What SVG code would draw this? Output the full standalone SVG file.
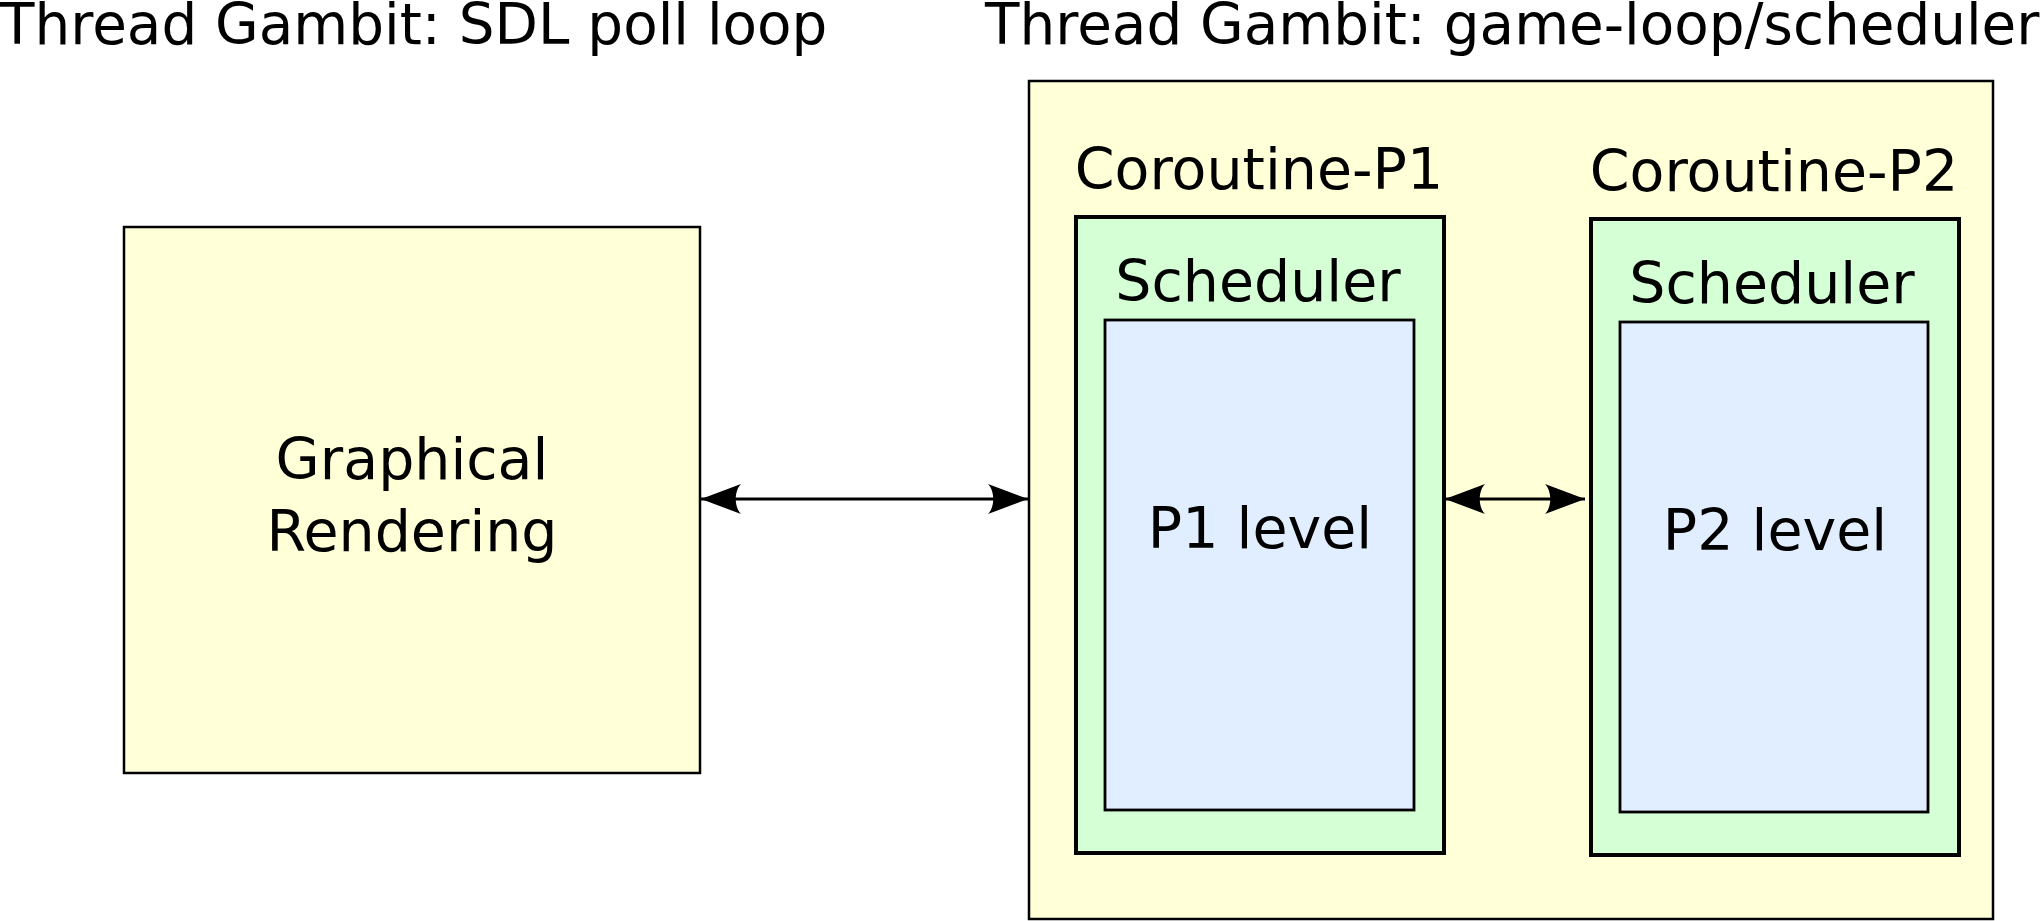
<svg xmlns="http://www.w3.org/2000/svg" width="2041" height="921" viewBox="0 0 2041 921">
<style>
text{font-family:"DejaVu Sans",Verdana,sans-serif;font-size:57px;fill:#000}
.t{font-size:56.4px}
.c{text-anchor:middle}
.yel{fill:#ffffd8;stroke:#000;stroke-width:2.5}
.grn{fill:#d5ffd5;stroke:#000;stroke-width:4}
.blu{fill:#e0eeff;stroke:#000;stroke-width:2.8}
.conn{stroke:#000;stroke-width:3;fill:none}
</style>
<defs>
<marker id="ah" viewBox="0 0 40 30" refX="40" refY="15" markerWidth="40" markerHeight="30" markerUnits="userSpaceOnUse" orient="auto-start-reverse">
<path d="M40,15 L0,0 C7,7 7,23 0,30 Z" fill="#000"/>
</marker>
</defs>
<g id="label-sdl"><text class="t" x="0" y="44">Thread Gambit: SDL poll loop</text></g>
<g id="label-game"><text class="t" x="985" y="44">Thread Gambit: game-loop/scheduler</text></g>
<g id="graphical-rendering">
<rect class="yel" x="124" y="227" width="576" height="546"/>
<text class="c" x="412" y="479">Graphical</text>
<text class="c" x="412" y="551">Rendering</text>
</g>
<g id="game-loop">
<rect class="yel" x="1029" y="81" width="964" height="838"/>
</g>
<g id="coroutine-p1">
<text class="c" x="1259" y="189">Coroutine-P1</text>
<rect class="grn" x="1076" y="217" width="368" height="636"/>
<text class="c" x="1258" y="301">Scheduler</text>
<rect class="blu" x="1105" y="320" width="309" height="490"/>
<text class="c" x="1260" y="548">P1 level</text>
</g>
<g id="coroutine-p2">
<text class="c" x="1774" y="191">Coroutine-P2</text>
<rect class="grn" x="1591" y="219" width="368" height="636"/>
<text class="c" x="1772" y="303">Scheduler</text>
<rect class="blu" x="1620" y="322" width="308" height="490"/>
<text class="c" x="1775" y="550">P2 level</text>
</g>
<g id="connectors">
<line class="conn" x1="701" y1="499" x2="1028" y2="499" marker-start="url(#ah)" marker-end="url(#ah)"/>
<line class="conn" x1="1445" y1="499" x2="1585" y2="499" marker-start="url(#ah)" marker-end="url(#ah)"/>
</g>
</svg>
